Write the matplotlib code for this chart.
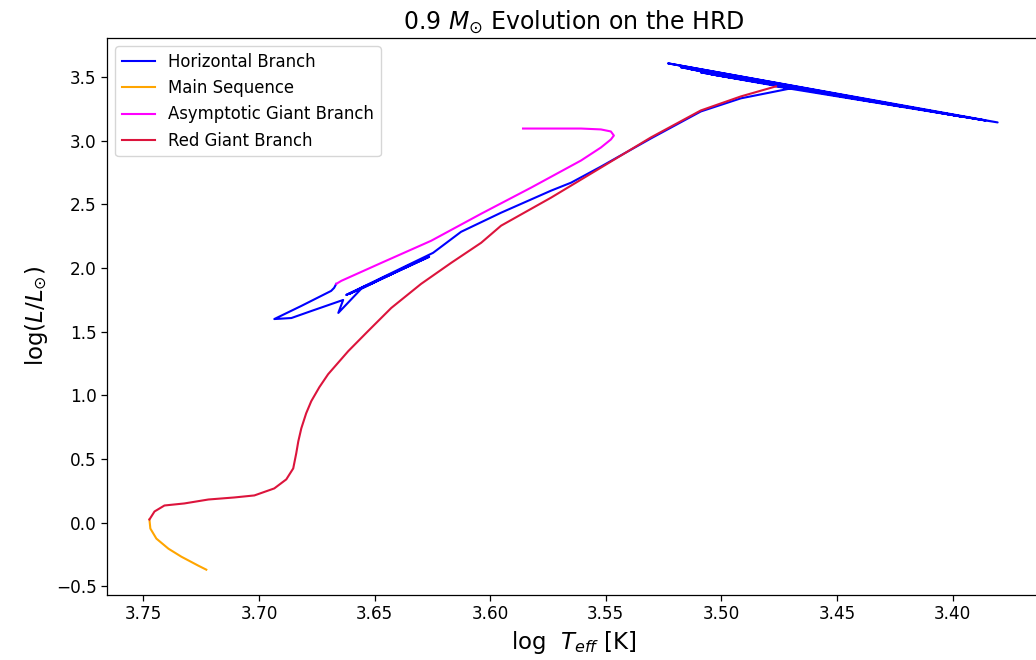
import numpy as np
import matplotlib
matplotlib.use("Agg")
import matplotlib.pyplot as plt

# main sequence
ms_T = [3.7228, 3.7262, 3.7336, 3.7392, 3.7444, 3.7470, 3.7474]
ms_L = [-0.370, -0.339, -0.268, -0.205, -0.126, -0.047, 0.024]

# red giant branch
rgb_T = [3.7474, 3.7452, 3.7409, 3.7323, 3.7219, 3.7107, 3.7020, 3.6934, 3.6882,
         3.6852, 3.6839, 3.6830, 3.6817, 3.6796, 3.6774, 3.6739, 3.6701, 3.6614,
         3.6528, 3.6428, 3.6299, 3.6169, 3.6039, 3.5953, 3.5737, 3.5521, 3.5305,
         3.5089, 3.4916, 3.4764]
rgb_L = [0.024, 0.087, 0.134, 0.150, 0.181, 0.197, 0.213, 0.268, 0.339,
         0.425, 0.543, 0.638, 0.740, 0.858, 0.953, 1.063, 1.165, 1.346,
         1.504, 1.685, 1.874, 2.039, 2.197, 2.331, 2.551, 2.787, 3.024,
         3.236, 3.346, 3.425]

# "horizontal branch" (tip, flash region, back down, loop)
hb_T = [3.4764, 3.3805, 3.5231, 3.3965, 3.5132, 3.4224, 3.5089, 3.4354, 3.5002,
        3.3857, 3.5175, 3.3987, 3.5045, 3.4700,
        3.4916, 3.5089, 3.5305, 3.5521, 3.5650, 3.5737, 3.5953, 3.6126, 3.6247,
        3.6623, 3.6264, 3.6592, 3.6281, 3.6610, 3.6299, 3.6558,
        3.6657, 3.6636, 3.6774, 3.6860, 3.6934, 3.6817, 3.6688, 3.6675, 3.6666]
hb_L = [3.425, 3.142, 3.606, 3.189, 3.559, 3.268, 3.535, 3.307, 3.512,
        3.157, 3.575, 3.197, 3.520, 3.409,
        3.331, 3.228, 3.016, 2.795, 2.669, 2.606, 2.433, 2.283, 2.118,
        1.787, 2.087, 1.811, 2.079, 1.795, 2.063, 1.835,
        1.646, 1.748, 1.661, 1.606, 1.598, 1.701, 1.819, 1.843, 1.874]

# asymptotic giant branch
agb_T = [3.6666, 3.6644, 3.6471, 3.6255, 3.6039, 3.5823, 3.5607, 3.5521,
         3.5478, 3.5465, 3.5478, 3.5521, 3.5607, 3.5858]
agb_L = [1.874, 1.898, 2.039, 2.213, 2.425, 2.630, 2.843, 2.945,
         3.008, 3.039, 3.071, 3.087, 3.094, 3.094]

fig = plt.figure(figsize=(10.36, 6.6), dpi=100)
ax = fig.add_axes([0.1033, 0.0985, 0.9006, 0.8439])

ax.plot(hb_T, hb_L, color="blue", label="Horizontal Branch")
ax.plot(ms_T, ms_L, color="orange", label="Main Sequence")
ax.plot(agb_T, agb_L, color="magenta", label="Asymptotic Giant Branch")
ax.plot(rgb_T, rgb_L, color="crimson", label="Red Giant Branch")

ax.invert_xaxis()
ax.set_title(r"0.9 $M_{\odot}$ Evolution on the HRD", fontsize=17)
ax.set_xlabel(r"log  $T_{eff}$ [K]", fontsize=16.5)
ax.set_ylabel(r"log($L/L_{\odot}$)", fontsize=16.5)
ax.tick_params(labelsize=12.2, length=4, width=0.9)
for sp in ax.spines.values():
    sp.set_linewidth(0.9)
ax.legend(loc="upper left", fontsize=11.9)

fig.savefig("out.png", dpi=100)
